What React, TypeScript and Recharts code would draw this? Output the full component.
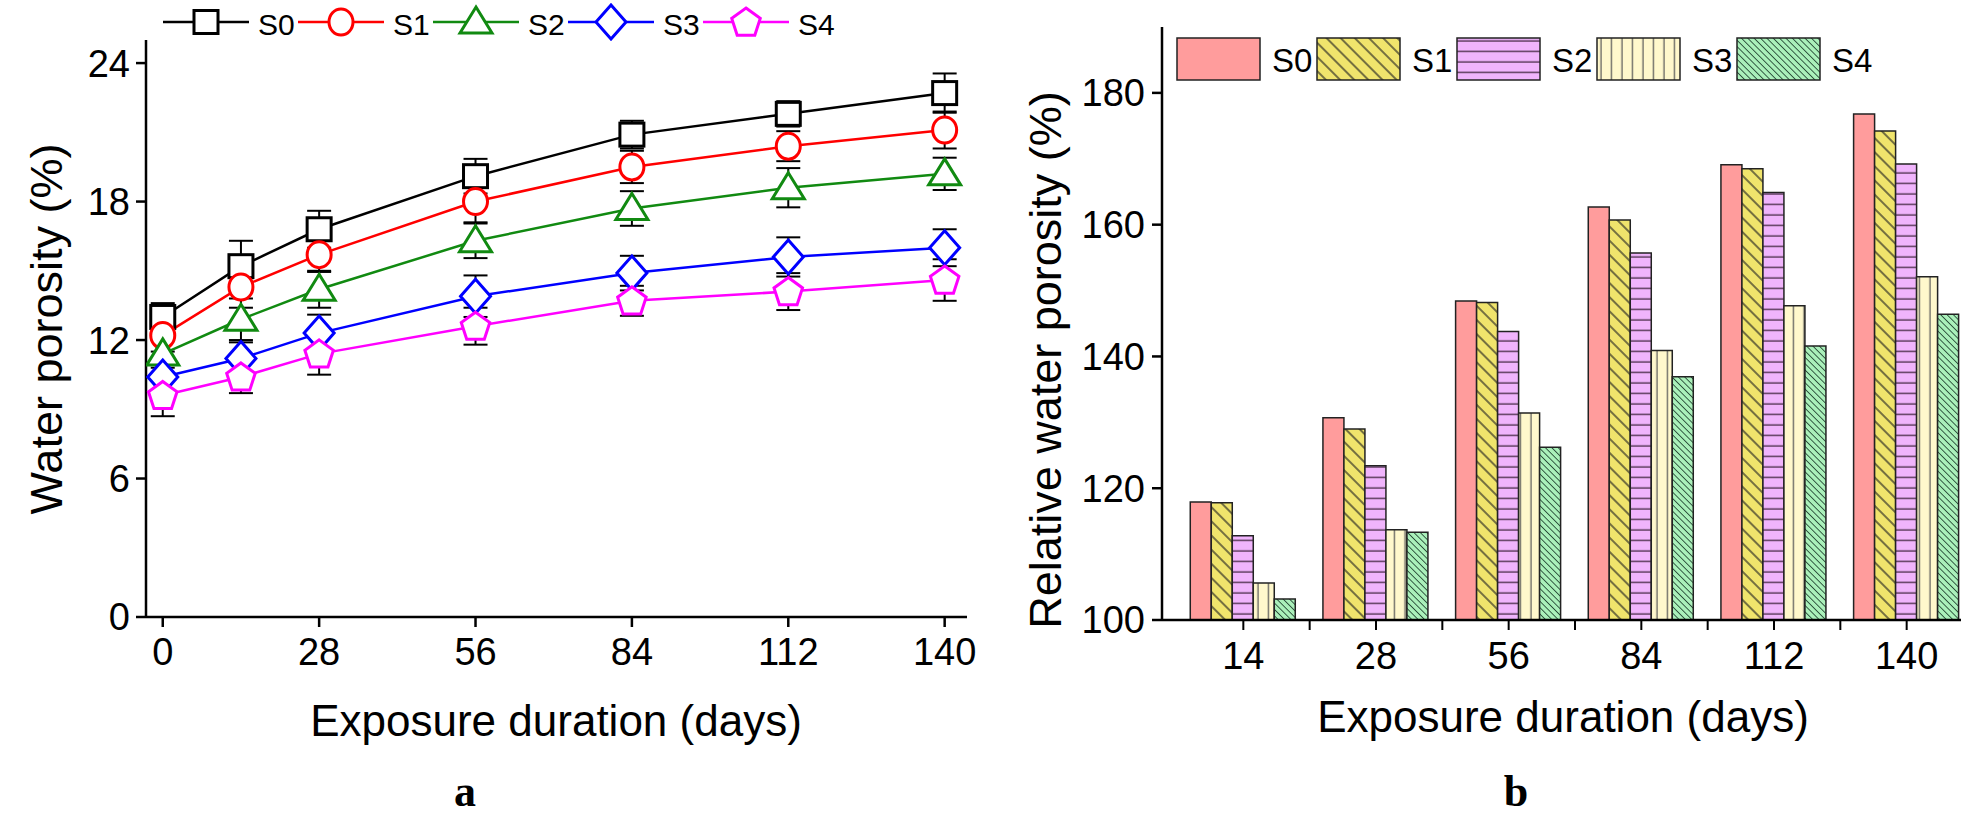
import { LineChart, Line, BarChart, Bar, XAxis, YAxis, ErrorBar, Legend } from 'recharts';

const FONT = '"Liberation Sans", Arial, sans-serif';
const NARROW = '"Liberation Sans Narrow", "Arial Narrow", "Liberation Sans", sans-serif';

// panel a: water porosity vs exposure days
const days = [0, 14, 28, 56, 84, 112, 140];
const s0 = [13.0, 15.2, 16.8, 19.1, 20.9, 21.8, 22.7];
const s1 = [12.2, 14.3, 15.7, 18.0, 19.5, 20.4, 21.1];
const s2 = [11.4, 12.9, 14.2, 16.3, 17.7, 18.6, 19.2];
const s3 = [10.4, 11.2, 12.3, 13.9, 14.9, 15.6, 16.0];
const s4 = [9.6, 10.4, 11.4, 12.6, 13.7, 14.1, 14.6];
const s0Err = [0.6, 1.1, 0.8, 0.75, 0.6, 0.55, 0.85];
const s1Err = [0.7, 0.9, 0.75, 0.9, 0.7, 0.65, 0.8];
const s2Err = [0.6, 0.9, 0.8, 0.75, 0.75, 0.85, 0.7];
const s3Err = [0.6, 0.7, 0.8, 0.9, 0.75, 0.85, 0.8];
const s4Err = [0.9, 0.7, 0.9, 0.8, 0.65, 0.8, 0.9];
const dayTicks = [0, 28, 56, 84, 112, 140];
const porosityTicks = [0, 6, 12, 18, 24];

// panel b: relative water porosity
const durations = ['14', '28', '56', '84', '112', '140'];
const r0 = [117.9, 130.7, 148.4, 162.7, 169.1, 176.8];
const r1 = [117.8, 129.0, 148.2, 160.7, 168.5, 174.2];
const r2 = [112.8, 123.4, 143.8, 155.7, 164.9, 169.2];
const r3 = [105.6, 113.7, 131.4, 140.9, 147.7, 152.1];
const r4 = [103.2, 113.3, 126.2, 136.9, 141.6, 146.4];
const relativeTicks = [100, 120, 140, 160, 180];

const lineData = days.map((d, i) => ({
  day: d,
  s0: s0[i], s0Err: s0Err[i],
  s1: s1[i], s1Err: s1Err[i],
  s2: s2[i], s2Err: s2Err[i],
  s3: s3[i], s3Err: s3Err[i],
  s4: s4[i], s4Err: s4Err[i],
}));

const barData = durations.map((d, i) => ({
  duration: d, r0: r0[i], r1: r1[i], r2: r2[i], r3: r3[i], r4: r4[i],
}));

const lineSeries = [
  { key: 's0', name: 'S0', color: '#000000', shape: 'square' },
  { key: 's1', name: 'S1', color: '#ff0000', shape: 'circle' },
  { key: 's2', name: 'S2', color: '#118a11', shape: 'triangle' },
  { key: 's3', name: 'S3', color: '#0000ff', shape: 'diamond' },
  { key: 's4', name: 'S4', color: '#ff00ff', shape: 'pentagon' },
];

const barSeries = [
  { key: 'r0', name: 'S0', fill: '#ff9c9c' },
  { key: 'r1', name: 'S1', fill: 'url(#patS1)' },
  { key: 'r2', name: 'S2', fill: 'url(#patS2)' },
  { key: 'r3', name: 'S3', fill: 'url(#patS3)' },
  { key: 'r4', name: 'S4', fill: 'url(#patS4)' },
];

const Marker = ({ shape, cx, cy, color }: { shape: string; cx: number; cy: number; color: string }) => {
  const common = { fill: '#fff', stroke: color, strokeWidth: 3 };
  if (shape === 'square') return <rect x={cx - 12} y={cy - 11.5} width={24} height={23} {...common} />;
  if (shape === 'circle') return <ellipse cx={cx} cy={cy} rx={12} ry={13} {...common} />;
  if (shape === 'triangle')
    return <polygon points={`${cx},${cy - 15} ${cx + 16},${cy + 11} ${cx - 16},${cy + 11}`} {...common} />;
  if (shape === 'diamond')
    return <polygon points={`${cx},${cy - 17} ${cx + 15},${cy} ${cx},${cy + 17} ${cx - 15},${cy}`} {...common} />;
  const pts = [0, 1, 2, 3, 4]
    .map((k) => {
      const a = -Math.PI / 2 + (k * 2 * Math.PI) / 5;
      return `${cx + 15 * Math.cos(a)},${cy + 15 * Math.sin(a) + 1}`;
    })
    .join(' ');
  return <polygon points={pts} {...common} />;
};

const LineLegend = () => (
  <svg width={720} height={45} style={{ display: 'block' }}>
    {lineSeries.map((s, i) => {
      const x0 = i * 135;
      return (
        <g key={s.key}>
          <line x1={x0} x2={x0 + 86} y1={22} y2={22} stroke={s.color} strokeWidth={2.5} />
          <Marker shape={s.shape} cx={x0 + 43} cy={22} color={s.color} />
          <text x={x0 + 95} y={35} fontSize={30} fontFamily={FONT} fill="#000">{s.name}</text>
        </g>
      );
    })}
  </svg>
);

const BarLegend = () => (
  <svg width={720} height={48} style={{ display: 'block' }}>
    {barSeries.map((s, i) => {
      const x0 = i * 140 + 1;
      return (
        <g key={s.key}>
          <rect x={x0} y={2} width={83} height={42} fill={s.fill} stroke="#222" strokeWidth={1.5} />
          <text x={x0 + 95} y={36} fontSize={33} fontFamily={FONT} fill="#000">{s.name}</text>
        </g>
      );
    })}
  </svg>
);

const BandTick = ({ x, y, payload }: any) => {
  const off = payload && typeof payload.offset === 'number' && payload.offset > 0 ? payload.offset : 66.3;
  return (
    <g>
      <line x1={x + off} x2={x + off} y1={y - 22} y2={y - 12} stroke="#000" strokeWidth={2} />
      <text x={x} y={y} dy="0.71em" textAnchor="middle" fontSize={38} fontFamily={NARROW} fill="#000">
        {payload.value}
      </text>
    </g>
  );
};

const axisStroke = { stroke: '#000', strokeWidth: 2.5 };
const tickStyle = { fill: '#000', fontSize: 38, fontFamily: NARROW };

const App = () => {
  return (
    <div style={{ position: 'fixed', left: 0, top: 0, width: 1961, height: 822, overflow: 'hidden', background: '#fff' }}>
      <svg width={0} height={0} style={{ position: 'absolute' }}>
        <defs>
          <pattern id="patS1" patternUnits="userSpaceOnUse" width={10} height={10} patternTransform="rotate(-45)">
            <rect width={10} height={10} fill="#f0e46c" />
            <line x1={5} y1={0} x2={5} y2={10} stroke="#222" strokeWidth={1.2} />
          </pattern>
          <pattern id="patS2" patternUnits="userSpaceOnUse" width={10} height={10.5}>
            <rect width={10} height={10.5} fill="#f0b4fc" />
            <line x1={0} y1={5} x2={10} y2={5} stroke="#5a3a5a" strokeWidth={1.5} />
          </pattern>
          <pattern id="patS3" patternUnits="userSpaceOnUse" width={10.5} height={10}>
            <rect width={10.5} height={10} fill="#fff8cc" />
            <line x1={5} y1={0} x2={5} y2={10} stroke="#555" strokeWidth={1.2} />
          </pattern>
          <pattern id="patS4" patternUnits="userSpaceOnUse" width={4.5} height={10} patternTransform="rotate(-45)">
            <rect width={4.5} height={10} fill="#aaf0ba" />
            <line x1={2.25} y1={0} x2={2.25} y2={10} stroke="#224433" strokeWidth={0.9} />
          </pattern>
        </defs>
      </svg>

      <div style={{ position: 'absolute', left: 0, top: 0 }}>
        <LineChart width={1000} height={822} data={lineData} margin={{ top: 40, right: 33, bottom: 145, left: 0 }}>
          <XAxis
            dataKey="day"
            type="number"
            domain={[-3, 144]}
            ticks={dayTicks}
            allowDataOverflow
            height={60}
            tickSize={10}
            tickMargin={11}
            axisLine={axisStroke}
            tickLine={axisStroke}
            tick={tickStyle}
          />
          <YAxis
            type="number"
            domain={[0, 25]}
            ticks={porosityTicks}
            allowDataOverflow
            width={146}
            tickSize={10}
            tickMargin={6}
            axisLine={axisStroke}
            tickLine={axisStroke}
            tick={tickStyle}
          />
          <Legend
            layout="horizontal"
            verticalAlign="middle"
            align="center"
            content={() => <LineLegend />}
            wrapperStyle={{ left: 163, top: 0, width: 720, height: 45 }}
          />
          {lineSeries.map((s) => (
            <Line
              key={s.key}
              dataKey={s.key}
              name={s.name}
              stroke={s.color}
              strokeWidth={2.5}
              isAnimationActive={false}
              dot={(p: any) => <Marker key={`${s.key}-${p.index}`} shape={s.shape} cx={p.cx} cy={p.cy} color={s.color} />}
              activeDot={false}
            >
              <ErrorBar dataKey={`${s.key}Err`} direction="y" width={12} stroke="#000" strokeWidth={2} isAnimationActive={false} />
            </Line>
          ))}
        </LineChart>
      </div>

      <div style={{ position: 'absolute', left: 980, top: 0 }}>
        <BarChart
          width={1000}
          height={822}
          data={barData}
          margin={{ top: 27, right: 7, bottom: 142, left: 0 }}
          barCategoryGap="10%"
          barGap={0}
        >
          <XAxis
            dataKey="duration"
            type="category"
            padding={{ left: 15, right: 0 }}
            height={60}
            tickSize={10}
            tickMargin={12}
            axisLine={axisStroke}
            tickLine={{ stroke: '#000', strokeWidth: 2 }}
            tick={<BandTick />}
          />
          <YAxis
            type="number"
            domain={[100, 190]}
            ticks={relativeTicks}
            allowDataOverflow
            width={182}
            tickSize={10}
            tickMargin={7}
            axisLine={axisStroke}
            tickLine={axisStroke}
            tick={tickStyle}
          />
          <Legend
            layout="horizontal"
            verticalAlign="middle"
            align="center"
            content={() => <BarLegend />}
            wrapperStyle={{ left: 196, top: 36, width: 720, height: 48 }}
          />
          {barSeries.map((s) => (
            <Bar key={s.key} dataKey={s.key} name={s.name} fill={s.fill} stroke="#222" strokeWidth={1.5} isAnimationActive={false} />
          ))}
        </BarChart>
      </div>

      <svg width={1961} height={822} style={{ position: 'absolute', left: 0, top: 0, pointerEvents: 'none' }}>
        <text transform="translate(62, 329) rotate(-90)" textAnchor="middle" fontSize={45} fontFamily={FONT} fill="#000">
          Water porosity (%)
        </text>
        <text x={556} y={736} textAnchor="middle" fontSize={44} fontFamily={FONT} fill="#000">
          Exposure duration (days)
        </text>
        <text transform="translate(1061, 360) rotate(-90)" textAnchor="middle" fontSize={45} fontFamily={FONT} fill="#000">
          Relative water porosity (%)
        </text>
        <text x={1563} y={732} textAnchor="middle" fontSize={44} fontFamily={FONT} fill="#000">
          Exposure duration (days)
        </text>
        <text x={465} y={806} textAnchor="middle" fontSize={44} fontWeight="bold" fontFamily='"Liberation Serif", "Times New Roman", serif' fill="#000">
          a
        </text>
        <text x={1516} y={806} textAnchor="middle" fontSize={44} fontWeight="bold" fontFamily='"Liberation Serif", "Times New Roman", serif' fill="#000">
          b
        </text>
      </svg>
    </div>
  );
};

export default App;
